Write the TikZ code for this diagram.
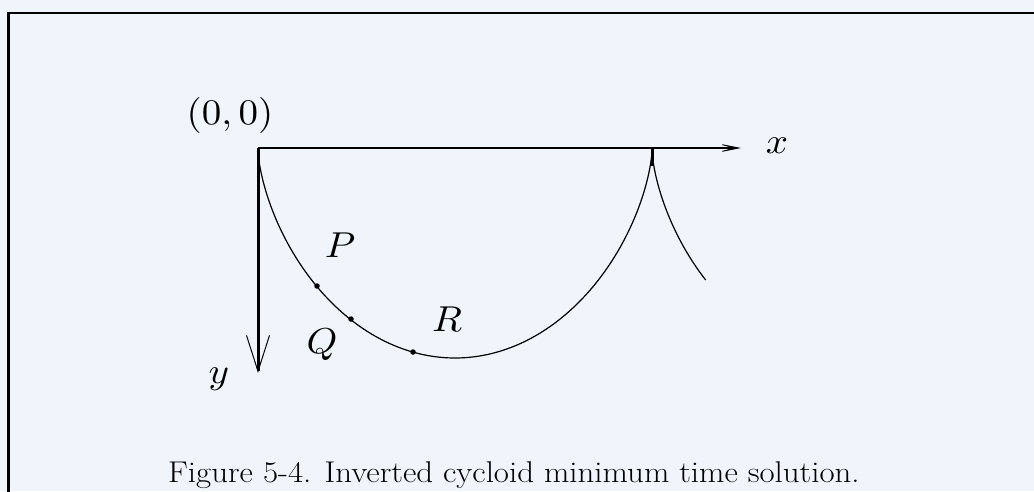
\documentclass[tikz,border=0pt]{standalone}
\usepackage{fontspec}
\usepackage{graphicx}
\usetikzlibrary{arrows.meta}
\definecolor{bgblue}{RGB}{240,245,252}
\newcommand{\mlab}[1]{\scalebox{3.9}[3.6]{$#1$}}
\tikzset{
  lbl/.style={anchor=base, inner sep=0pt},
  caption/.style={anchor=base west, inner sep=0pt, font=\fontsize{30}{34}\selectfont},
  curve/.style={line width=1.2pt},
  dotm/.style={circle, fill=black, inner sep=0pt, minimum size=5.5pt},
}
\begin{document}
\begin{tikzpicture}[x=1pt,y=-1pt]
\fill[bgblue] (0,0) rectangle (1034,491);
\useasboundingbox (0,0) rectangle (1034,491);
% frame
\draw[line width=2.5pt] (8.5,492) -- (8.5,13) -- (1035,13);
% named points
\coordinate (O) at (258,148);
\coordinate (xend) at (741,148);
\coordinate (yend) at (258,373);
\coordinate (cusp) at (652,148);
\coordinate (cuspb) at (652,166);
% x axis
\draw[line width=1.4pt, -{Stealth[length=30pt,width=12pt,inset=22pt,line width=0.8pt]}] (O) -- (xend);
% y axis
\draw[line width=3pt, -{Straight Barb[length=36pt,width=23pt,line width=1pt]}] (O) -- (yend);
% tick at cusp
\draw[line width=3pt] (cusp) -- (cuspb);
% cycloid
\draw[curve] plot[domain=0:8.11, samples=240, variable=\t, smooth]
  ({258+62.71*(\t - sin(\t r))}, {150+104*(1-cos(\t r))});
% points
\node[dotm] (p) at (317,286) {};
\node[dotm] (q) at (351,319) {};
\node[dotm] (r) at (413,352) {};
% labels
\node[lbl] (lo) at (230,124) {\mlab{(0,0)}};
\node[lbl] (lx) at (777,153) {\mlab{x}};
\node[lbl] (ly) at (219,383) {\mlab{y}};
\node[lbl] (lp) at (340,257) {\mlab{P}};
\node[lbl] (lq) at (322,353) {\mlab{Q}};
\node[lbl] (lr) at (447,331) {\mlab{R}};
\node[caption] (cap) at (168,482) {\scalebox{1.096}[1]{Figure 5-4. Inverted cycloid minimum time solution.}};
\end{tikzpicture}
\end{document}
